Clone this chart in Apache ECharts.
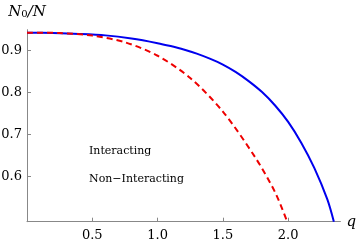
<!DOCTYPE html>
<html><head><meta charset="utf-8">
<script src="https://cdn.jsdelivr.net/npm/echarts@6/dist/echarts.min.js"></script>
<style>html,body{margin:0;padding:0;background:#fff}#c{width:361px;height:244px}</style>
</head><body><div id="c"></div>
<script>
const interactingQ = [0, 0.2, 0.4, 0.6, 0.8, 1.0, 1.1, 1.2, 1.3, 1.4, 1.5, 1.6, 1.7, 1.8, 1.9, 2.0, 2.1, 2.2, 2.3, 2.35];
const interactingV = [0.943, 0.942, 0.940, 0.9365, 0.929, 0.918, 0.911, 0.903, 0.893, 0.881, 0.867, 0.849, 0.827, 0.8015, 0.7695, 0.7305, 0.681, 0.621, 0.546, 0.493];
const nonInteractingQ = [0, 0.25, 0.5, 0.75, 1.0, 1.25, 1.5, 1.75, 1.9, 1.99];
const nonInteractingV = [0.943, 0.942, 0.936, 0.920, 0.888, 0.835, 0.755, 0.645, 0.563, 0.495];
const xTicks = [0.5, 1.0, 1.5, 2.0];
const yTicks = [0.6, 0.7, 0.8, 0.9];
const seriesNames = ['Interacting', 'Non\u2212Interacting'];

const FONT = 'DejaVu Serif';
const AX = '#888888';
const BLUE = '#0000ee', RED = '#ee0000';
const chart = echarts.init(document.getElementById('c'));
chart.setOption({
  animation: false,
  textStyle: { fontFamily: FONT },
  grid: { left: 27, top: 29.7, width: 313.4, height: 192, containLabel: false, outerBoundsMode: 'none' },
  legend: {
    orient: 'vertical', left: 53, top: 141, itemWidth: 26, itemHeight: 10, itemGap: 17, itemTextGap: 8,
    selectedMode: false,
    icon: 'none',
    textStyle: { fontFamily: FONT, fontSize: 11, color: '#000' },
    lineStyle: { width: 1.5, color: 'inherit', opacity: 0.8 },
    data: seriesNames
  },
  xAxis: {
    type: 'value', min: 0, max: 2.4,
    name: 'q', nameLocation: 'end', nameGap: 6,
    nameTextStyle: { fontFamily: FONT, fontStyle: 'italic', fontSize: 15, color: '#000', verticalAlign: 'middle' },
    axisLine: { lineStyle: { color: AX, width: 1 } },
    axisTick: { inside: true, length: 4, customValues: xTicks, lineStyle: { color: AX } },
    axisLabel: { customValues: xTicks, formatter: v => v.toFixed(1), fontFamily: FONT, fontSize: 13, color: '#000', margin: 7 },
    splitLine: { show: false }
  },
  yAxis: {
    type: 'value', min: 0.493, max: 0.95,
    name: '{i|N}{s|0}{i|/N}', nameLocation: 'end', nameGap: 10,
    nameTextStyle: {
      fontFamily: FONT,
      rich: {
        i: { fontFamily: FONT, fontStyle: 'italic', fontSize: 15, color: '#000' },
        s: { fontFamily: FONT, fontSize: 10, color: '#000', verticalAlign: 'bottom', padding: [6, 0, 0, 0] }
      }
    },
    axisLine: { lineStyle: { color: AX, width: 1 } },
    axisTick: { inside: true, length: 4, customValues: yTicks, lineStyle: { color: AX } },
    axisLabel: { customValues: yTicks, formatter: v => v.toFixed(1), fontFamily: FONT, fontSize: 13, color: '#000', margin: 5 },
    splitLine: { show: false }
  },
  series: [
    {
      name: seriesNames[0], type: 'line', smooth: 0.3, symbol: 'none', color: BLUE,
      data: interactingQ.map((q, i) => [q, interactingV[i]]),
      lineStyle: { color: BLUE, width: 2 }, itemStyle: { color: BLUE }
    },
    {
      name: seriesNames[1], type: 'line', smooth: 0.3, symbol: 'none', z: 3, color: RED,
      data: nonInteractingQ.map((q, i) => [q, nonInteractingV[i]]),
      lineStyle: { color: RED, width: 2, type: [6, 4] }, itemStyle: { color: RED }
    }
  ]
});
</script></body></html>
